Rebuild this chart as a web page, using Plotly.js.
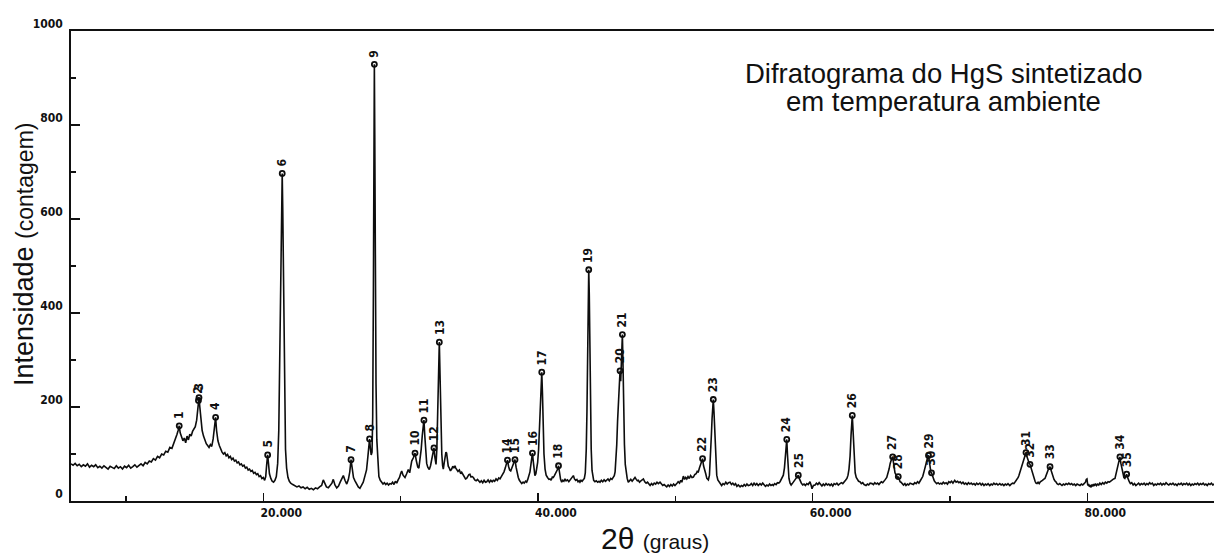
<!DOCTYPE html>
<html>
<head>
<meta charset="utf-8">
<script src="https://cdn.plot.ly/plotly-3.0.1.min.js"></script>
<style>
  html, body { margin: 0; padding: 0; background: #fff; overflow: hidden; }
  #chart { width: 1214px; height: 555px; }
</style>
</head>
<body>
<div id="chart"></div>
<script>
// Diffractogram of HgS synthesised at room temperature (2-theta in degrees, counts)
const twoTheta = [
  6.00,6.15,6.30,6.45,6.60,6.75,6.90,7.05,7.20,7.35,7.50,7.65,7.80,7.95,8.10,8.25,8.40,8.55,8.70,8.85,
  9.00,9.15,9.30,9.45,9.60,9.75,9.90,10.05,10.20,10.35,10.50,10.65,10.80,10.95,11.10,11.25,11.40,11.55,11.70,11.85,
  12.00,12.15,12.30,12.45,12.60,12.75,12.90,13.05,13.20,13.35,13.50,13.62,13.72,13.80,13.88,13.95,14.05,14.15,14.25,14.35,
  14.45,14.55,14.65,14.75,14.85,14.95,15.05,15.15,15.22,15.28,15.32,15.38,15.45,15.55,15.65,15.75,15.85,15.95,16.05,16.15,
  16.25,16.35,16.45,16.53,16.60,16.70,16.80,16.90,17.00,17.10,17.20,17.30,17.40,17.50,17.60,17.70,17.80,17.90,18.00,18.10,
  18.20,18.30,18.40,18.50,18.60,18.70,18.80,18.90,19.00,19.10,19.20,19.30,19.40,19.50,19.60,19.70,19.80,19.90,20.00,20.10,
  20.18,20.25,20.32,20.38,20.45,20.55,20.65,20.75,20.85,20.95,21.05,21.13,21.20,21.28,21.35,21.38,21.42,21.48,21.55,21.62,
  21.70,21.80,21.90,22.00,22.15,22.30,22.45,22.60,22.75,22.90,23.05,23.20,23.35,23.50,23.65,23.80,23.95,24.10,24.25,24.37,
  24.48,24.60,24.74,24.88,25.00,25.10,25.22,25.35,25.48,25.60,25.72,25.83,25.95,26.08,26.20,26.30,26.39,26.47,26.57,26.68,
  26.80,26.92,27.04,27.15,27.28,27.41,27.52,27.62,27.68,27.74,27.80,27.86,27.92,27.97,28.02,28.06,28.09,28.12,28.16,28.21,
  28.27,28.34,28.42,28.52,28.62,28.72,28.82,28.92,29.02,29.12,29.22,29.32,29.42,29.52,29.62,29.72,29.82,29.92,30.00,30.08,
  30.18,30.32,30.44,30.56,30.66,30.74,30.81,30.93,31.05,31.15,31.25,31.33,31.41,31.50,31.58,31.64,31.70,31.76,31.83,31.90,
  31.98,32.09,32.18,32.26,32.35,32.43,32.50,32.58,32.64,32.70,32.76,32.82,32.87,32.93,33.00,33.06,33.11,33.17,33.23,33.30,
  33.35,33.41,33.47,33.55,33.63,33.72,33.80,33.88,33.96,34.02,34.08,34.18,34.28,34.38,34.45,34.55,34.65,34.73,34.81,34.90,
  34.97,35.05,35.13,35.22,35.30,35.40,35.50,35.60,35.70,35.78,35.88,35.98,36.08,36.18,36.27,36.37,36.47,36.57,36.67,36.75,
  36.85,36.95,37.05,37.15,37.24,37.34,37.44,37.53,37.62,37.70,37.78,37.86,37.94,38.02,38.10,38.18,38.26,38.33,38.41,38.49,
  38.57,38.65,38.73,38.82,38.92,39.00,39.10,39.18,39.26,39.34,39.42,39.50,39.56,39.60,39.66,39.72,39.78,39.85,39.92,39.98,
  40.05,40.12,40.18,40.23,40.28,40.33,40.38,40.44,40.52,40.60,40.70,40.80,40.88,40.96,41.05,41.12,41.20,41.28,41.36,41.44,
  41.50,41.57,41.65,41.73,41.81,41.89,41.97,42.05,42.15,42.25,42.34,42.42,42.50,42.58,42.66,42.75,42.84,42.92,43.00,43.06,
  43.14,43.22,43.30,43.38,43.45,43.52,43.57,43.62,43.66,43.70,43.74,43.78,43.83,43.88,43.94,44.00,44.06,44.15,44.25,44.35,
  44.45,44.52,44.62,44.72,44.82,44.92,45.01,45.10,45.20,45.30,45.39,45.48,45.56,45.62,45.68,45.74,45.80,45.86,45.92,45.98,
  46.03,46.08,46.12,46.15,46.19,46.24,46.30,46.36,46.42,46.50,46.58,46.66,46.76,46.86,46.96,47.07,47.16,47.24,47.31,47.40,
  47.50,47.60,47.68,47.78,47.88,47.98,48.08,48.17,48.27,48.37,48.47,48.57,48.67,48.77,48.89,48.99,49.09,49.19,49.29,49.38,
  49.48,49.58,49.68,49.78,49.88,49.98,50.11,50.21,50.31,50.40,50.48,50.59,50.68,50.76,50.84,50.93,51.02,51.12,51.22,51.32,
  51.42,51.52,51.60,51.68,51.76,51.84,51.92,51.99,52.06,52.14,52.22,52.30,52.41,52.49,52.57,52.63,52.68,52.73,52.77,52.82,
  52.88,52.94,53.02,53.10,53.20,53.30,53.38,53.48,53.58,53.68,53.78,53.88,53.99,54.09,54.19,54.29,54.39,54.49,54.59,54.72,
  54.82,54.92,55.02,55.12,55.22,55.32,55.44,55.54,55.64,55.74,55.84,55.94,56.04,56.17,56.27,56.37,56.47,56.57,56.67,56.77,
  56.87,56.97,57.07,57.14,57.24,57.34,57.44,57.54,57.63,57.72,57.80,57.87,57.95,58.02,58.08,58.12,58.17,58.22,58.28,58.36,
  58.44,58.52,58.60,58.68,58.76,58.84,58.90,58.96,59.03,59.10,59.18,59.28,59.38,59.48,59.58,59.68,59.81,59.90,59.96,60.06,
  60.18,60.28,60.38,60.48,60.58,60.68,60.78,60.88,60.98,61.08,61.18,61.27,61.37,61.47,61.57,61.67,61.77,61.87,62.00,62.10,
  62.20,62.30,62.40,62.50,62.58,62.65,62.73,62.80,62.86,62.89,62.93,62.98,63.04,63.10,63.18,63.26,63.35,63.45,63.55,63.65,
  63.75,63.89,63.99,64.09,64.19,64.33,64.43,64.53,64.63,64.73,64.83,64.91,65.01,65.11,65.21,65.30,65.40,65.50,65.57,65.65,
  65.72,65.78,65.83,65.88,65.94,66.00,66.07,66.14,66.20,66.24,66.30,66.37,66.44,66.52,66.62,66.72,66.80,66.90,67.00,67.10,
  67.24,67.34,67.44,67.54,67.64,67.74,67.82,67.92,68.02,68.11,68.19,68.26,68.34,68.40,68.44,68.50,68.56,68.62,68.66,68.72,
  68.78,68.86,68.94,69.04,69.14,69.24,69.34,69.42,69.52,69.62,69.72,69.82,69.92,70.02,70.12,70.22,70.35,70.45,70.55,70.65,
  70.75,70.85,70.95,71.05,71.15,71.25,71.35,71.45,71.55,71.65,71.75,71.85,71.95,72.05,72.18,72.28,72.38,72.48,72.58,72.68,
  72.78,72.90,73.00,73.10,73.20,73.30,73.40,73.50,73.63,73.73,73.83,73.93,74.03,74.13,74.23,74.36,74.46,74.56,74.66,74.74,
  74.81,74.90,74.97,75.03,75.10,75.18,75.25,75.32,75.40,75.47,75.54,75.60,75.66,75.72,75.78,75.83,75.89,75.95,76.01,76.07,
  76.12,76.20,76.27,76.34,76.42,76.50,76.58,76.66,76.74,76.82,76.92,77.00,77.07,77.15,77.22,77.29,77.36,77.43,77.50,77.58,
  77.66,77.72,77.80,77.90,78.00,78.08,78.16,78.26,78.36,78.46,78.56,78.66,78.76,78.86,78.96,79.06,79.16,79.26,79.36,79.47,
  79.57,79.67,79.77,79.87,79.93,79.98,80.04,80.10,80.16,80.22,80.28,80.34,80.40,80.46,80.52,80.60,80.68,80.76,80.84,80.92,
  81.02,81.12,81.22,81.32,81.42,81.52,81.62,81.72,81.82,81.92,82.02,82.10,82.16,82.24,82.30,82.38,82.45,82.53,82.60,82.67,
  82.74,82.80,82.87,82.94,83.00,83.06,83.14,83.24,83.34,83.44,83.54,83.64,83.74,83.84,83.94,84.04,84.14,84.24,84.34,84.44,
  84.54,84.64,84.74,84.84,84.94,85.04,85.14,85.24,85.34,85.44,85.54,85.64,85.74,85.84,85.94,86.04,86.14,86.24,86.34,86.44,
  86.54,86.64,86.74,86.84,86.94,87.04,87.14,87.24,87.34,87.44,87.54,87.64,87.74,87.84,87.94,88.04,88.14,88.24,88.34,88.44,
  88.54,88.64,88.74,88.84,88.94,89.04,89.14,89.24,89.34
];
const counts = [
  79,76,80,75,78,73,77,74,79,72,76,73,77,71,74,70,75,71,68,74,
  72,69,75,70,73,68,74,71,76,70,73,77,72,76,79,75,82,79,85,83,
  90,87,95,92,100,98,106,104,114,112,124,130,142,150,160,145,136,128,134,124,
  138,130,142,138,148,152,158,172,195,214,220,200,175,150,138,128,122,118,114,120,
  116,132,152,178,150,128,118,110,104,100,103,96,99,92,95,88,91,85,87,81,
  83,77,79,74,76,70,72,66,68,63,65,59,61,56,58,52,54,48,50,44,
  52,78,98,80,58,48,42,40,44,52,80,150,280,480,650,697,620,420,220,110,
  70,50,42,38,35,33,30,32,28,30,26,29,25,27,24,28,26,30,33,45,
  36,30,28,34,38,46,34,28,32,40,46,54,44,36,46,62,88,66,50,43,
  36,30,27,33,40,54,66,95,108,132,112,98,104,180,450,760,929,780,500,250,
  130,75,52,44,40,36,39,35,38,34,37,36,40,35,42,38,45,50,58,64,
  55,50,58,67,60,72,85,92,102,85,72,70,85,110,140,160,172,140,100,80,
  72,67,75,86,96,113,92,78,110,200,290,338,270,170,100,75,68,80,96,104,
  102,86,74,70,64,68,74,70,75,70,67,63,66,58,61,55,52,47,48,53,
  56,57,51,52,50,45,43,46,42,40,43,39,44,40,41,45,40,44,41,44,
  42,47,44,49,47,52,55,62,70,80,87,74,66,64,70,76,82,88,72,58,
  50,44,40,37,40,38,42,40,46,52,62,80,95,102,85,62,54,58,70,82,
  110,160,220,260,274,230,160,100,68,55,50,46,47,44,51,50,54,58,62,68,
  75,58,46,40,44,42,47,43,45,41,44,48,51,54,47,44,46,41,43,40,
  44,42,45,48,60,110,190,320,430,492,440,330,200,110,65,48,44,41,43,40,
  42,40,44,41,45,42,44,47,43,48,46,50,54,62,85,120,170,220,260,277,
  255,290,335,354,300,200,120,78,60,48,40,43,46,42,47,50,46,43,44,40,
  43,46,47,41,38,40,35,33,37,34,38,36,40,37,40,36,33,35,31,30,
  34,31,35,32,36,33,37,41,38,44,40,53,46,50,47,52,48,54,50,51,
  56,58,63,62,70,78,84,90,75,62,58,48,45,55,90,140,175,205,216,190,
  150,95,55,45,40,36,33,37,35,40,36,39,40,35,38,34,37,31,34,30,
  33,31,35,32,36,33,34,37,33,38,34,37,33,37,34,38,35,31,34,32,
  36,33,35,33,37,35,39,38,41,46,50,55,70,95,120,131,100,62,48,38,
  34,37,40,43,46,50,53,55,48,42,38,34,36,33,37,35,41,33,26,33,
  34,38,35,39,35,32,36,33,37,34,36,33,36,32,37,35,38,34,37,39,
  37,42,44,48,55,68,95,140,172,182,160,120,80,60,50,45,42,41,37,39,
  35,33,36,34,38,37,35,39,36,38,35,38,41,39,44,46,50,58,68,80,
  88,92,94,80,66,60,56,50,49,52,46,41,40,36,34,37,33,36,34,38,
  37,35,39,37,41,38,42,46,52,62,72,82,90,95,97,82,68,60,60,54,
  49,43,40,37,39,36,38,36,40,37,39,36,41,39,42,38,44,40,42,39,
  41,37,40,36,38,35,39,36,38,35,37,34,38,35,38,34,37,33,36,34,
  37,33,36,34,38,35,37,34,37,34,36,33,36,34,37,33,36,38,37,40,
  42,46,50,55,62,70,76,84,92,98,103,95,88,82,80,78,72,68,60,52,
  48,42,38,37,40,37,41,42,44,46,48,54,61,66,70,73,66,58,54,46,
  42,41,37,35,37,34,33,36,34,37,35,38,35,37,34,36,33,36,34,33,
  36,34,37,40,46,47,33,36,30,34,29,35,31,36,32,37,33,36,34,38,
  35,39,36,40,38,41,40,43,44,47,48,58,68,78,86,94,80,66,56,50,
  48,52,57,50,44,41,37,39,34,37,33,36,38,34,37,35,38,34,37,35,
  39,36,38,33,36,34,37,35,38,34,37,35,39,36,34,37,35,38,34,36,
  33,37,35,38,34,37,35,38,34,37,33,36,34,37,35,38,34,37,35,38,
  34,36,33,37,35,38,34,36,35
];

// Indexed reflections: position, peak height and reference number
const peakTheta = [13.88,15.28,15.32,16.53,20.32,21.38,26.39,27.74,28.09,31.05,31.70,32.43,32.82,37.78,38.33,39.60,40.28,41.50,
                   43.70,45.98,46.15,51.99,52.77,58.12,58.96,62.89,65.83,66.24,68.44,68.66,75.54,75.83,77.29,82.38,82.87];
const peakCounts = [160,214,220,178,98,697,88,132,929,102,172,113,338,87,88,102,274,75,
                    492,277,354,90,216,131,55,182,94,52,97,60,103,78,73,94,57];
const peakLabels = ['1','2','3','4','5','6','7','8','9','10','11','12','13','14','15','16','17','18',
                    '19','20','21','22','23','24','25','26','27','28','29','30','31','32','33','34','35'];

const xTickVals = [20, 40, 60, 80];
const xTickText = ['20.000', '40.000', '60.000', '80.000'];
const yTickVals = [0, 200, 400, 600, 800, 1000];
const yTickText = ['0', '200', '400', '600', '800', '1000'];

const smallFont = '"Liberation Sans Narrow", "DejaVu Sans Condensed", "Roboto Condensed", "Liberation Sans", sans-serif';
const textFont = '"Liberation Sans", Arial, sans-serif';

const pattern = {
  x: twoTheta, y: counts, type: 'scatter', mode: 'lines',
  line: { color: '#0d0d0d', width: 1.6 }, hoverinfo: 'skip', showlegend: false
};
const peaks = {
  x: peakTheta, y: peakCounts, type: 'scatter', mode: 'markers',
  marker: { symbol: 'circle-open', size: 5, color: '#0d0d0d', line: { width: 1.8, color: '#0d0d0d' } },
  hoverinfo: 'skip', showlegend: false
};

const peakNotes = peakTheta.map((t, i) => ({
  x: t, y: peakCounts[i], xref: 'x', yref: 'y', text: peakLabels[i], showarrow: false,
  textangle: -90, xanchor: 'center', yanchor: 'bottom', yshift: 5,
  font: { family: smallFont, size: 12, weight: 'bold', color: '#111' }
}));

const layout = {
  width: 1214, height: 555,
  margin: { l: 71, r: 0, t: 31, b: 54 },
  paper_bgcolor: '#fff', plot_bgcolor: '#fff',
  xaxis: {
    range: [6.0, 89.23], showgrid: false, zeroline: false,
    showline: true, mirror: true, linecolor: '#111', linewidth: 1.8,
    ticks: 'inside', ticklen: 8, tickwidth: 1.4, tickcolor: '#111',
    tickvals: xTickVals, ticktext: xTickText, ticklabelshift: 18,
    minor: { tickvals: [10, 30, 50, 70], ticks: 'inside', ticklen: 5, tickwidth: 1.2, tickcolor: '#111' },
    tickfont: { family: smallFont, size: 12, weight: 'bold', color: '#111' }
  },
  yaxis: {
    range: [0, 1000], showgrid: false, zeroline: false,
    showline: true, mirror: false, linecolor: '#111', linewidth: 1.8,
    ticks: 'inside', ticklen: 9, tickwidth: 1.4, tickcolor: '#111',
    tickvals: yTickVals, ticktext: yTickText, ticklabelshift: -7, ticklabelstandoff: 4,
    minor: { dtick: 100, ticks: 'inside', ticklen: 5, tickwidth: 1.2, tickcolor: '#111' },
    tickfont: { family: smallFont, size: 12, weight: 'bold', color: '#111' }
  },
  annotations: peakNotes.concat([
    { xref: 'paper', yref: 'paper', x: 0.7635, y: 1, yshift: -42, xanchor: 'center', yanchor: 'middle',
      text: 'Difratograma do HgS sintetizado', showarrow: false,
      font: { family: textFont, size: 27.5, color: '#111' } },
    { xref: 'paper', yref: 'paper', x: 0.7635, y: 1, yshift: -70, xanchor: 'center', yanchor: 'middle',
      text: 'em temperatura ambiente', showarrow: false,
      font: { family: textFont, size: 27.5, color: '#111' } },
    { xref: 'paper', yref: 'paper', x: 0.511, y: 0, yshift: -37, xanchor: 'center', yanchor: 'middle',
      text: '2θ <span style="font-size:21px">(graus)</span>', showarrow: false,
      font: { family: textFont, size: 30, color: '#111' } },
    { xref: 'paper', yref: 'paper', x: 0, xshift: -47, y: 0.5, yshift: 11, xanchor: 'center', yanchor: 'middle',
      textangle: -90, text: 'Intensidade <span style="font-size:23px">(contagem)</span>', showarrow: false,
      font: { family: textFont, size: 27, color: '#111' } }
  ])
};

Plotly.newPlot('chart', [pattern, peaks], layout, { staticPlot: true, displayModeBar: false });
</script>
</body>
</html>
